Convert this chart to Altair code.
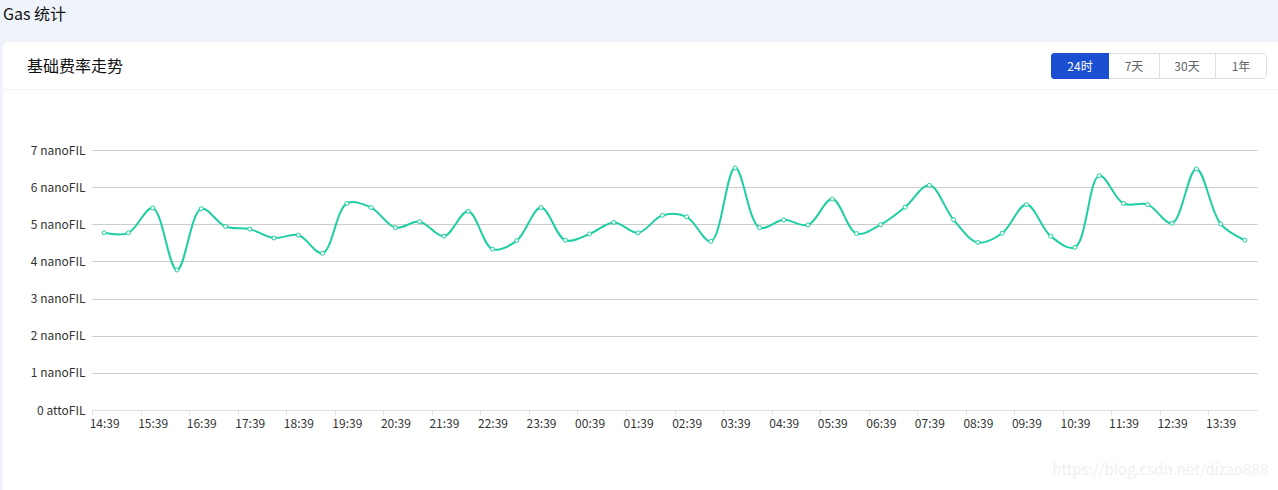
import altair as alt
import pandas as pd

# ---- data ----
times = ["14:39", "15:09", "15:39", "16:09", "16:39", "17:09", "17:39", "18:09",
         "18:39", "19:09", "19:39", "20:09", "20:39", "21:09", "21:39", "22:09",
         "22:39", "23:09", "23:39", "00:09", "00:39", "01:09", "01:39", "02:09",
         "02:39", "03:09", "03:39", "04:09", "04:39", "05:09", "05:39", "06:09",
         "06:39", "07:09", "07:39", "08:09", "08:39", "09:09", "09:39", "10:09",
         "10:39", "11:09", "11:39", "12:09", "12:39", "13:09", "13:39", "14:09"]
gas_nano = [4.77, 4.77, 5.44, 3.77, 5.42, 4.94, 4.87, 4.63, 4.71, 4.22,
            5.56, 5.45, 4.91, 5.07, 4.68, 5.35, 4.33, 4.56, 5.45, 4.57,
            4.74, 5.05, 4.77, 5.24, 5.20, 4.54, 6.52, 4.91, 5.12, 4.98,
            5.68, 4.75, 4.99, 5.46, 6.05, 5.12, 4.51, 4.76, 5.53, 4.68,
            4.38, 6.31, 5.56, 5.53, 5.03, 6.49, 5.01, 4.57]
y_ticks = [0, 1, 2, 3, 4, 5, 6, 7]
buttons = ["24时", "7天", "30天", "1年"]

df = pd.DataFrame({"idx": list(range(len(times))), "time": times, "gas": gas_nano})

FONT = "Noto Sans CJK SC"
LINE = "#1fcfa3"
W, H = 1278, 490
L, T = 92, 150
PW, PH = 1165, 260
unit = PW / len(times)

label_expr = "[" + ",".join(f"'{t}'" for t in times) + "][datum.value]"

x_enc = alt.X(
    "idx:Q",
    scale=alt.Scale(domain=[-0.5, len(times) - 0.5], nice=False, zero=False),
    axis=alt.Axis(
        orient="bottom", values=list(range(0, len(times), 2)), labelExpr=label_expr,
        tickOffset=-unit / 2, labelOffset=unit / 2, grid=False, title=None,
        domainColor="#e0e0e0", tickColor="#e0e0e0", tickSize=5, labelPadding=3,
        labelFontSize=12, labelColor="#333333", labelFont=FONT,
        labelFlush=False, labelOverlap=False,
    ),
)
y_enc = alt.Y(
    "gas:Q",
    scale=alt.Scale(domain=[0, 7], nice=False, zero=True),
    axis=alt.Axis(
        values=y_ticks, title=None, domain=False, ticks=False, labelPadding=7,
        labelExpr="datum.value == 0 ? '0 attoFIL' : datum.value + ' nanoFIL'",
        gridColor="#cccccc", gridWidth=1, labelFontSize=12, labelColor="#333333",
        labelFont=FONT, labelOverlap=False, labelFlush=False, tickCount=8,
    ),
)

line = alt.Chart(df).mark_line(interpolate="catmull-rom", color=LINE, strokeWidth=2).encode(x=x_enc, y=y_enc)
pts = alt.Chart(df).mark_point(shape="circle", filled=False, fill="white", fillOpacity=1,
                               stroke=LINE, strokeWidth=1, size=16, opacity=1).encode(x=x_enc, y=y_enc)

base = alt.Chart(alt.Data(values=[{}]))


def rect(x1, y1, x2, y2, fill, stroke=None, **kw):
    m = dict(fill=fill)
    if stroke:
        m.update(stroke=stroke, strokeWidth=1)
    m.update(kw)
    return base.mark_rect(**m).encode(
        x=alt.value(x1 - L), x2=alt.value(x2 - L), y=alt.value(y1 - T), y2=alt.value(y2 - T))


def txt(s, x, y, size, color, align="left", **kw):
    return base.mark_text(text=s, align=align, baseline="middle", fontSize=size,
                          color=color, font=FONT, **kw).encode(x=alt.value(x - L), y=alt.value(y - T))


def rule(x1, y1, x2, y2, color):
    return base.mark_rule(color=color, strokeWidth=1).encode(
        x=alt.value(x1 - L), x2=alt.value(x2 - L), y=alt.value(y1 - T), y2=alt.value(y2 - T))


BG = "#eff4fb"
deco = [
    rect(0, 0, W + 20, 60, BG),
    rect(0, 0, 3, H + 10, BG),
    rect(3, 42, W + 30, 120, "white", cornerRadius=5),
    rule(3, 89.5, W + 5, 89.5, "#f2f2f2"),
    rule(92, 410.5, 1257, 410.5, "#e0e0e0"),
    txt("Gas 统计", 3, 15, 16, "#111111"),
    txt("基础费率走势", 27, 67, 16, "#111111"),
    rect(1051.5, 53.5, 1266.5, 78.5, "white", stroke="#dcdfe6", cornerRadius=3),
    rect(1051, 53, 1109, 79, "#1a4fd1", cornerRadiusTopLeft=3, cornerRadiusBottomLeft=3),
    rule(1159.5, 54, 1159.5, 78, "#dcdfe6"),
    rule(1215.5, 54, 1215.5, 78, "#dcdfe6"),
    txt(buttons[0], 1080, 66.5, 12, "white", align="center"),
    txt(buttons[1], 1134, 66.5, 12, "#606266", align="center"),
    txt(buttons[2], 1187, 66.5, 12, "#606266", align="center"),
    txt(buttons[3], 1241, 66.5, 12, "#606266", align="center"),
    txt("https://blog.csdn.net/dizao888", 1268, 470, 15, "#f0f0f0", align="right"),
]

chart = alt.layer(*deco, line, pts).properties(
    width=PW, height=PH,
    autosize=alt.AutoSizeParams(type="none"),
    padding={"left": L, "top": T, "right": W - L - PW, "bottom": H - T - PH},
    background="white",
).configure_view(stroke=None)

chart.save("out.html", embed_options={"renderer": "svg", "actions": False})
